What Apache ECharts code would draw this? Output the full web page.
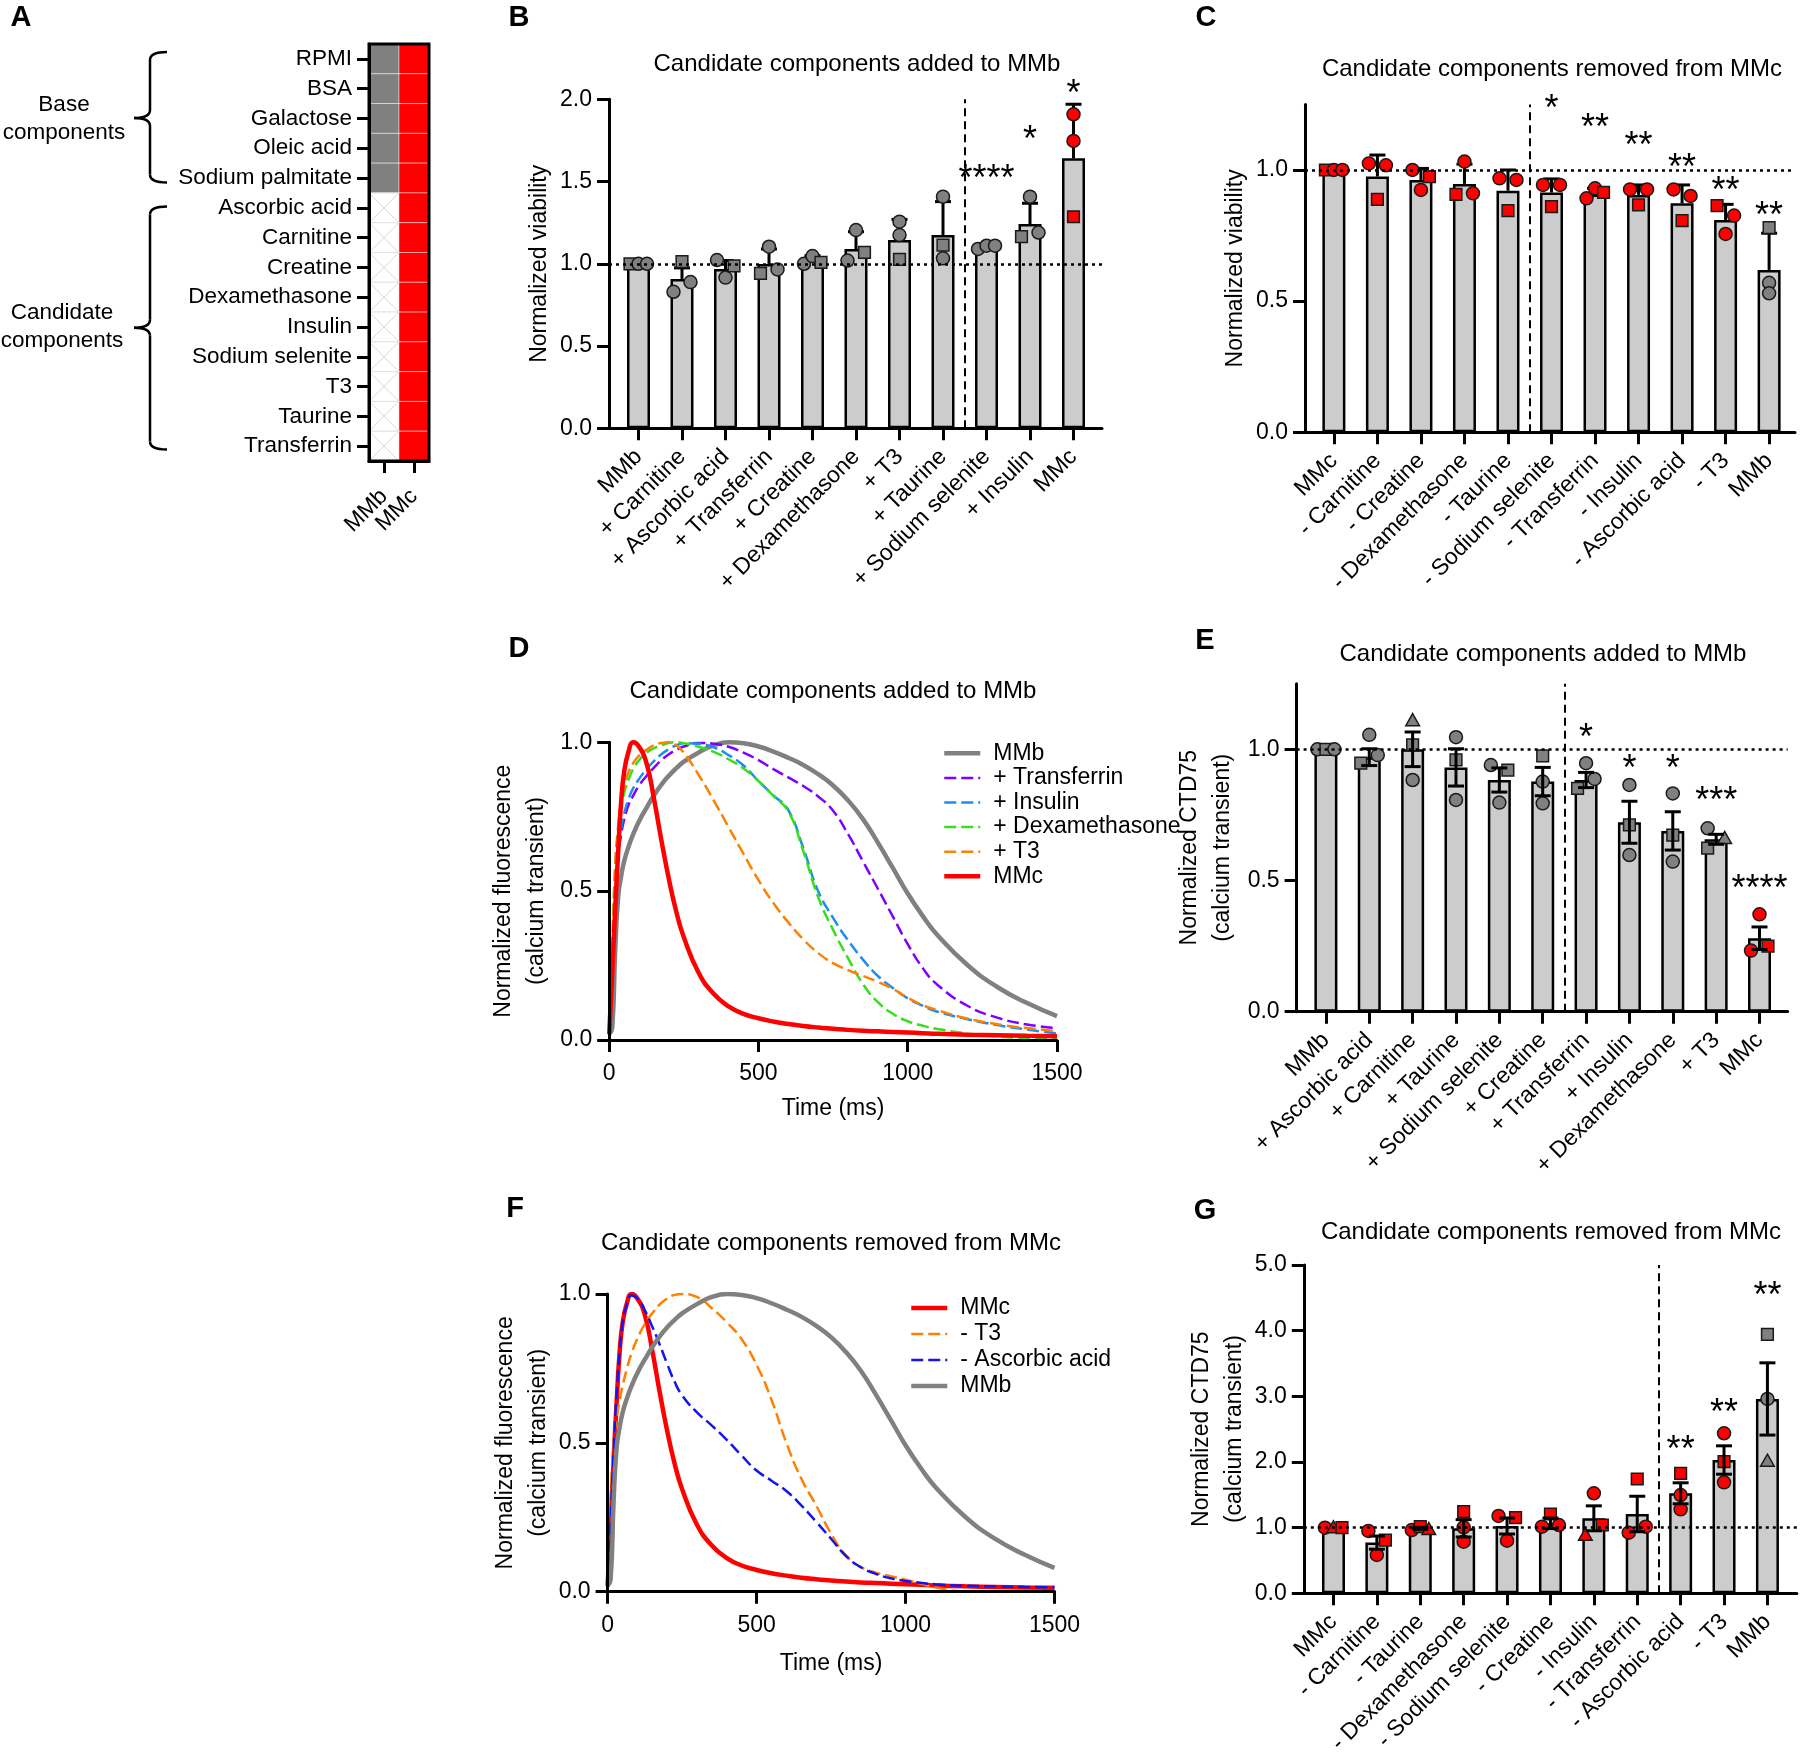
<!DOCTYPE html>
<html><head><meta charset="utf-8">
<script src="https://cdn.jsdelivr.net/npm/echarts@6/dist/echarts.min.js"></script>
<style>html,body{margin:0;padding:0;background:#fff}#c{width:1800px;height:1762px}</style>
</head><body><div id="c"></div>
<script>
// ---------------- DATA ----------------
// Panel A
const components = ['RPMI','BSA','Galactose','Oleic acid','Sodium palmitate','Ascorbic acid','Carnitine','Creatine','Dexamethasone','Insulin','Sodium selenite','T3','Taurine','Transferrin'];
const media = ['MMb','MMc'];
const inMMb = [1,1,1,1,1,0,0,0,0,0,0,0,0,0];
const inMMc = [1,1,1,1,1,1,1,1,1,1,1,1,1,1];

// Panel B
const catsB = ['MMb','+ Carnitine','+ Ascorbic acid','+ Transferrin','+ Creatine','+ Dexamethasone','+ T3','+ Taurine','+ Sodium selenite','+ Insulin','MMc'];
const meanB = [1.0,0.908,0.968,0.999,1.027,1.09,1.145,1.175,1.10,1.242,1.641];
const sdB = [0,0.067,0.052,0.091,0.023,0.105,0.125,0.203,0.02,0.126,0.329];
const ptsB = [[1,1,1],[0.83,1.013,0.889],[1.023,0.916,0.987],[0.942,1.104,0.966],[1.0,1.047,1.009],[1.02,1.205,1.07],[1.256,1.175,1.027],[1.408,1.114,1.033],[1.09,1.11,1.11],[1.165,1.408,1.19],[1.909,1.747,1.286]];
const shpB = [['rect','circle','circle'],['circle','rect','circle'],['circle','circle','rect'],['rect','circle','circle'],['circle','circle','rect'],['circle','circle','rect'],['circle','circle','rect'],['circle','rect','circle'],['circle','circle','circle'],['rect','circle','circle'],['circle','circle','rect']];
const sigB = ['','','','','','','','','****','*','*'];
const sigYB = [0,0,0,0,0,0,0,0,1.55,1.79,2.07];
const splitB = 7.5;

// Panel C
const catsC = ['MMc','- Carnitine','- Creatine','- Dexamethasone','- Taurine','- Sodium selenite','- Transferrin','- Insulin','- Ascorbic acid','- T3','MMb'];
const meanC = [1.0,0.975,0.962,0.947,0.921,0.914,0.907,0.905,0.873,0.809,0.619];
const sdC = [0,0.082,0.044,0.075,0.079,0.052,0.023,0.038,0.07,0.06,0.14];
const ptsC = [[1,1,1],[1.025,1.018,0.888],[1.0,0.975,0.924],[0.907,0.911,1.032],[0.968,0.962,0.845],[0.943,0.943,0.86],[0.892,0.93,0.915],[0.926,0.926,0.867],[0.926,0.901,0.807],[0.864,0.826,0.756],[0.78,0.57,0.53]];
const shpC = [['rect','circle','circle'],['circle','circle','rect'],['circle','rect','circle'],['rect','circle','circle'],['circle','circle','rect'],['circle','circle','rect'],['circle','circle','rect'],['circle','circle','rect'],['circle','circle','rect'],['rect','circle','circle'],['rect','circle','circle']];
const sigC = ['','','','','','*','**','**','**','**','**'];
const sigYC = [0,0,0,0,0,1.255,1.184,1.114,1.032,0.943,0.848];
const splitC = 4.5;

// Panel D / F time courses
const timeMs = [0,10,20,30,40,50,65,80,100,125,150,175,200,225,250,300,350,400,450,500,550,600,650,700,750,800,850,900,950,1000,1050,1100,1200,1300,1400,1500];
const curveMMb = [0.02,0.04,0.3,0.48,0.55,0.6,0.65,0.69,0.735,0.78,0.822,0.858,0.888,0.913,0.935,0.966,0.99,1.0,0.997,0.986,0.969,0.948,0.924,0.893,0.855,0.805,0.742,0.663,0.578,0.492,0.417,0.352,0.252,0.178,0.124,0.08];
const curveMMc = [0.02,0.22,0.44,0.63,0.8,0.9,0.97,1.0,0.985,0.93,0.81,0.67,0.54,0.43,0.345,0.225,0.155,0.113,0.088,0.073,0.062,0.054,0.047,0.042,0.038,0.034,0.031,0.029,0.027,0.025,0.023,0.021,0.018,0.016,0.014,0.013];
const curvePlusTransferrin = [0.02,0.25,0.5,0.62,0.69,0.74,0.79,0.82,0.855,0.887,0.915,0.94,0.96,0.975,0.986,0.998,0.995,0.985,0.965,0.94,0.91,0.882,0.853,0.818,0.77,0.692,0.6,0.508,0.415,0.322,0.242,0.185,0.115,0.075,0.052,0.04];
const curvePlusInsulin = [0.02,0.25,0.5,0.63,0.71,0.76,0.81,0.845,0.877,0.91,0.937,0.96,0.977,0.99,0.997,0.995,0.983,0.957,0.922,0.87,0.822,0.772,0.645,0.5,0.41,0.335,0.27,0.215,0.175,0.14,0.115,0.095,0.07,0.05,0.035,0.022];
const curvePlusDex = [0.02,0.3,0.58,0.7,0.78,0.83,0.875,0.91,0.94,0.965,0.98,0.99,0.998,1.0,0.997,0.985,0.968,0.943,0.912,0.87,0.82,0.768,0.635,0.48,0.37,0.275,0.188,0.127,0.088,0.063,0.048,0.037,0.022,0.012,0.007,0.004];
const curvePlusT3 = [0.02,0.3,0.58,0.72,0.8,0.85,0.9,0.93,0.955,0.975,0.99,0.998,1.0,0.99,0.965,0.89,0.805,0.715,0.625,0.537,0.46,0.395,0.338,0.292,0.258,0.235,0.215,0.195,0.172,0.142,0.117,0.1,0.072,0.053,0.04,0.03];
const curveMinusT3 = [0.02,0.3,0.5,0.58,0.64,0.69,0.75,0.8,0.85,0.9,0.935,0.965,0.985,0.997,1.0,0.99,0.952,0.905,0.848,0.762,0.645,0.5,0.38,0.29,0.195,0.122,0.083,0.064,0.052,0.04,0.027,0.014,0.001,0,0,0];
const curveMinusAscorbic = [0.02,0.25,0.47,0.66,0.8,0.9,0.965,0.995,0.985,0.945,0.89,0.83,0.765,0.705,0.66,0.602,0.558,0.51,0.457,0.407,0.373,0.338,0.29,0.235,0.178,0.12,0.082,0.06,0.045,0.036,0.03,0.025,0.02,0.018,0.016,0.015];

// Panel E
const catsE = ['MMb','+ Ascorbic acid','+ Carnitine','+ Taurine','+ Sodium selenite','+ Creatine','+ Transferrin','+ Insulin','+ Dexamethasone','+ T3','MMc'];
const meanE = [1.0,0.97,1.0,0.931,0.883,0.877,0.883,0.722,0.689,0.657,0.28];
const semE = [0,0.032,0.066,0.071,0.046,0.054,0.029,0.08,0.073,0.019,0.043];
const ptsE = [[1,1,1],[0.947,0.978,1.055],[1.11,1.017,0.883],[1.046,0.96,0.807],[0.94,0.921,0.797],[0.975,0.877,0.794],[0.851,0.887,0.947],[0.864,0.712,0.597],[0.832,0.673,0.572],[0.699,0.661,0.623],[0.233,0.25,0.371]];
const shpE = [['circle','rect','circle'],['rect','circle','circle'],['triangle','rect','circle'],['circle','rect','circle'],['circle','rect','circle'],['rect','circle','circle'],['rect','circle','circle'],['circle','rect','circle'],['circle','rect','circle'],['circle','triangle','rect'],['circle','rect','circle']];
const sigE = ['','','','','','','*','*','*','***','****'];
const sigYE = [0,0,0,0,0,0,1.067,0.948,0.948,0.826,0.49];
const splitE = 5.5;

// Panel G
const catsG = ['MMc','- Carnitine','- Taurine','- Dexamethasone','- Sodium selenite','- Creatine','- Insulin','- Transferrin','- Ascorbic acid','- T3','MMb'];
const meanG = [1.0,0.772,0.99,0.99,1.025,1.066,1.142,1.208,1.523,2.03,2.96];
const semG = [0,0.10,0.015,0.132,0.122,0.08,0.19,0.27,0.16,0.216,0.55];
const ptsG = [[1,1,1],[0.95,0.81,0.584],[0.964,1.015,0.975],[1.244,1.005,0.787],[1.178,1.152,0.802],[1.015,1.04,1.208],[0.888,1.04,1.523],[0.924,1.015,1.741],[1.827,1.497,1.279],[2.437,2.005,1.69],[3.944,2.96,2.015]];
const shpG = [['circle','triangle','rect'],['circle','rect','circle'],['circle','rect','triangle'],['rect','circle','circle'],['circle','rect','circle'],['circle','circle','rect'],['triangle','rect','circle'],['circle','circle','rect'],['rect','circle','circle'],['circle','rect','circle'],['rect','circle','triangle']];
const sigG = ['','','','','','','','','**','**','**'];
const sigYG = [0,0,0,0,0,0,0,0,2.27,2.84,4.62];
const splitG = 7.5;

// ---------------- LAYOUT / STYLE ----------------
const FONT = "'Liberation Sans', Arial, Helvetica, sans-serif";
const LAY = {
  A: {left: 369, top: 44, width: 60, height: 417},
  B: {left: 609, top: 99.3, width: 493, height: 329, xMin: -0.678, xMax: 10.655, yMax: 2, yTicks: [0,0.5,1,1.5,2], nameGap: 51},
  C: {left: 1305, top: 104.4, width: 490, height: 327.9, xMin: -0.664, xMax: 10.595, yMax: 1.25, yTicks: [0,0.5,1], nameGap: 53},
  E: {left: 1296.6, top: 683.7, width: 491, height: 328, xMin: -0.676, xMax: 10.648, yMax: 1.25, yTicks: [0,0.5,1], nameGap: 57},
  G: {left: 1303.8, top: 1265, width: 493, height: 328.3, xMin: -0.684, xMax: 10.677, yMax: 5, yTicks: [0,1,2,3,4,5], nameGap: 53},
  D: {left: 609.2, top: 742.3, width: 447.8, height: 297.7, nameGap: 56, xNameGap: 57},
  F: {left: 607.6, top: 1294, width: 446.9, height: 297.7, nameGap: 47, xNameGap: 60}
};
const SYM = 13, JIT = 8.5, OVER = 10.3, CAP = 8;

const grids = [], xAxes = [], yAxes = [], series = [], legends = [], graphic = [];

function axLine(){ return {show: true, onZero: false, lineStyle: {color: '#000', width: 3}}; }
function axTick(vals){ const t = {show: true, length: 12, lineStyle: {color: '#000', width: 3}}; if (vals) t.customValues = vals; return t; }
const lbl = (o) => Object.assign({color: '#000', fontFamily: FONT, fontSize: 23}, o);

function isRedCat(c){ return c === 'MMc' || c.charAt(0) === '-'; }

function jitterSlots(ys){
  const n = ys.length, s = new Array(n).fill(0), seen = new Array(n).fill(false);
  const ov = (a, b) => Math.abs(ys[a] - ys[b]) < OVER;
  for (let i = 0; i < n; i++) {
    if (seen[i]) continue;
    const q = [i], comp = []; seen[i] = true;
    while (q.length) { const a = q.shift(); comp.push(a); for (let b = 0; b < n; b++) if (!seen[b] && ov(a, b)) { seen[b] = true; q.push(b); } }
    comp.sort((a, b) => a - b);
    if (comp.length === 2) { s[comp[0]] = -1; s[comp[1]] = 1; }
    else if (comp.length === 3) {
      if (ov(comp[0], comp[1]) && ov(comp[1], comp[2]) && ov(comp[0], comp[2])) { s[comp[0]] = -1; s[comp[1]] = 0; s[comp[2]] = 1; }
      else { const byY = comp.slice().sort((a, b) => ys[a] - ys[b]); s[byY[0]] = -1; s[byY[1]] = 1; s[byY[2]] = -1; }
    }
  }
  return s;
}

function symbolEl(shape, x, y, fill){
  const r = SYM / 2, style = {fill: fill, stroke: '#1a1a1a', lineWidth: 1.5};
  if (shape === 'circle') return {type: 'circle', shape: {cx: x, cy: y, r: r}, style: style};
  if (shape === 'rect') { const h = r * 0.9; return {type: 'rect', shape: {x: x - h, y: y - h, width: 2 * h, height: 2 * h}, style: style}; }
  return {type: 'polygon', shape: {points: [[x, y - r * 1.05], [x + r * 1.05, y + r * 0.8], [x - r * 1.05, y + r * 0.8]]}, style: style};
}

function barPanel(key, d){
  const lay = LAY[key], gi = grids.length;
  grids.push({left: lay.left, top: lay.top, width: lay.width, height: lay.height, containLabel: false, outerBoundsMode: 'none'});
  const idx = d.cats.map((_, i) => i);
  xAxes.push({type: 'value', gridIndex: gi, min: lay.xMin, max: lay.xMax, z: 6,
    axisLine: axLine(), axisTick: axTick(idx), splitLine: {show: false},
    axisLabel: lbl({customValues: idx, formatter: v => d.cats[Math.round(v)], rotate: 45, margin: 25})});
  yAxes.push({type: 'value', gridIndex: gi, min: 0, max: lay.yMax, z: 6,
    name: d.yName, nameLocation: 'middle', nameGap: lay.nameGap,
    nameTextStyle: lbl({lineHeight: 33}),
    axisLine: axLine(), axisTick: axTick(lay.yTicks), splitLine: {show: false},
    axisLabel: lbl({customValues: lay.yTicks, formatter: v => v.toFixed(1), margin: 17})});
  series.push({type: 'bar', xAxisIndex: gi, yAxisIndex: gi, barWidth: 23, z: 2, silent: true,
    data: d.mean.map((m, i) => [i, m]),
    itemStyle: {color: '#cccccc', borderColor: '#000', borderWidth: 2.5},
    markLine: {symbol: ['none', 'none'], silent: true, label: {show: false}, animation: false,
      data: [
        {yAxis: 1, lineStyle: {type: [3, 4], color: '#000', width: 2.5}},
        {xAxis: d.split, lineStyle: {type: [8, 5], color: '#000', width: 2}}
      ]}});
  series.push({type: 'custom', xAxisIndex: gi, yAxisIndex: gi, z: d.both ? 5 : 3, silent: true,
    data: d.mean.map((m, i) => [i, m, d.err[i]]),
    renderItem: function(params, api){
      const i = api.value(0), m = api.value(1), e = api.value(2);
      if (!e) return null;
      const top = api.coord([i, m + e]), bot = api.coord([i, d.both ? m - e : m]);
      const st = {stroke: '#000', lineWidth: 3};
      const ch = [
        {type: 'line', shape: {x1: top[0], y1: top[1], x2: bot[0], y2: bot[1]}, style: st},
        {type: 'line', shape: {x1: top[0] - CAP, y1: top[1], x2: top[0] + CAP, y2: top[1]}, style: st}
      ];
      if (d.both) ch.push({type: 'line', shape: {x1: bot[0] - CAP, y1: bot[1], x2: bot[0] + CAP, y2: bot[1]}, style: st});
      return {type: 'group', children: ch};
    }});
  const pdata = [];
  d.pts.forEach((arr, i) => arr.forEach((v, k) => pdata.push([i, v, k])));
  series.push({type: 'custom', xAxisIndex: gi, yAxisIndex: gi, z: 4, silent: true, data: pdata,
    renderItem: function(params, api){
      const i = api.value(0), v = api.value(1), k = api.value(2);
      const ys = d.pts[i].map(p => api.coord([i, p])[1]);
      const slots = jitterSlots(ys);
      const c = api.coord([i, v]);
      return symbolEl(d.shp[i][k], c[0] + slots[k] * JIT, c[1], isRedCat(d.cats[i]) ? '#ff0000' : '#808080');
    }});
  series.push({type: 'custom', xAxisIndex: gi, yAxisIndex: gi, z: 6, silent: true,
    data: d.sigY.map((y, i) => [i, y]),
    renderItem: function(params, api){
      const i = api.value(0);
      if (!d.sig[i]) return null;
      const c = api.coord([i, api.value(1)]);
      return {type: 'text', x: c[0], y: c[1] + 7, style: {text: d.sig[i], fontSize: 36, fontFamily: FONT, fill: '#000', align: 'center', verticalAlign: 'middle'}};
    }});
}

function linePanel(key, d){
  const lay = LAY[key], gi = grids.length;
  grids.push({left: lay.left, top: lay.top, width: lay.width, height: lay.height, containLabel: false, outerBoundsMode: 'none'});
  xAxes.push({type: 'value', gridIndex: gi, min: 0, max: 1500, interval: 500, z: 6,
    name: 'Time (ms)', nameLocation: 'middle', nameGap: lay.xNameGap, nameTextStyle: lbl({}),
    axisLine: axLine(), axisTick: axTick(), splitLine: {show: false}, axisLabel: lbl({margin: 22, formatter: v => String(v)})});
  yAxes.push({type: 'value', gridIndex: gi, min: 0, max: 1, interval: 0.5, z: 6,
    name: 'Normalized fluorescence\n(calcium transient)', nameLocation: 'middle', nameGap: lay.nameGap,
    nameTextStyle: lbl({lineHeight: 33}),
    axisLine: axLine(), axisTick: axTick(), splitLine: {show: false},
    axisLabel: lbl({formatter: v => v.toFixed(1), margin: 17})});
  d.curves.forEach(cv => {
    series.push({type: 'line', name: cv.name, xAxisIndex: gi, yAxisIndex: gi, symbol: 'none', smooth: 0.5,
      data: timeMs.map((t, i) => [t, cv.vals[i]]), z: 3, silent: true,
      lineStyle: {color: cv.color, width: cv.solid ? 4.5 : 2.5, type: cv.solid ? 'solid' : [12, 5], cap: 'butt'},
      itemStyle: {color: cv.color}});
  });
  legends.push({orient: 'vertical', left: d.legLeft, top: d.legTop, itemWidth: 36, itemHeight: 14, itemGap: 0,
    selectedMode: false, data: d.curves.map(c => c.name),
    itemStyle: {opacity: 0},
    lineStyle: {width: 'inherit', type: 'inherit', color: 'inherit'},
    textStyle: lbl({lineHeight: d.legRow, padding: [0, 0, 0, 8]})});
}

// ---------------- PANEL A (composition heatmap) ----------------
(function(){
  const lay = LAY.A, gi = grids.length;
  grids.push({left: lay.left, top: lay.top, width: lay.width, height: lay.height, show: true, borderColor: '#000', borderWidth: 3, backgroundColor: 'transparent', z: 10, containLabel: false, outerBoundsMode: 'none'});
  xAxes.push({type: 'category', gridIndex: gi, data: media, z: 10,
    axisLine: axLine(), axisTick: Object.assign(axTick(), {alignWithLabel: true, interval: 0}),
    axisLabel: lbl({interval: 0, rotate: 45, margin: 32, fontSize: 22.5})});
  yAxes.push({type: 'category', gridIndex: gi, data: components, inverse: true, z: 10,
    axisLine: axLine(), axisTick: Object.assign(axTick(), {alignWithLabel: true, interval: 0}),
    axisLabel: lbl({interval: 0, margin: 17, fontSize: 22.5})});
  const cells = [];
  components.forEach((c, r) => { cells.push([0, r, inMMb[r]]); cells.push([1, r, inMMc[r]]); });
  series.push({type: 'custom', xAxisIndex: gi, yAxisIndex: gi, z: 2, silent: true, data: cells,
    renderItem: function(params, api){
      const col = api.value(0), row = api.value(1), on = api.value(2);
      const c = api.coord([col, row]), s = api.size([1, 1]);
      const x = c[0] - s[0] / 2, y = c[1] - s[1] / 2;
      const fill = on ? (col === 0 ? '#808080' : '#ff0000') : '#ffffff';
      const ch = [{type: 'rect', shape: {x: x, y: y, width: s[0], height: s[1]}, style: {fill: fill, stroke: on ? 'rgba(255,255,255,0.45)' : '#e2e2e2', lineWidth: 1}}];
      if (!on) {
        ch.push({type: 'line', shape: {x1: x, y1: y, x2: x + s[0], y2: y + s[1]}, style: {stroke: '#d8d8d8', lineWidth: 1}});
        ch.push({type: 'line', shape: {x1: x + s[0], y1: y, x2: x, y2: y + s[1]}, style: {stroke: '#d8d8d8', lineWidth: 1}});
      }
      return {type: 'group', children: ch};
    }});
})();

barPanel('B', {cats: catsB, mean: meanB, err: sdB, pts: ptsB, shp: shpB, sig: sigB, sigY: sigYB, split: splitB, both: false, yName: 'Normalized viability'});
barPanel('C', {cats: catsC, mean: meanC, err: sdC, pts: ptsC, shp: shpC, sig: sigC, sigY: sigYC, split: splitC, both: false, yName: 'Normalized viability'});
linePanel('D', {legLeft: 937, legTop: 736, legRow: 24.6, curves: [
  {name: 'MMb', vals: curveMMb, color: '#808080', solid: true},
  {name: '+ Transferrin', vals: curvePlusTransferrin, color: '#8000ff'},
  {name: '+ Insulin', vals: curvePlusInsulin, color: '#1e8cf0'},
  {name: '+ Dexamethasone', vals: curvePlusDex, color: '#33e01a'},
  {name: '+ T3', vals: curvePlusT3, color: '#ff8000'},
  {name: 'MMc', vals: curveMMc, color: '#ff0000', solid: true}
]});
barPanel('E', {cats: catsE, mean: meanE, err: semE, pts: ptsE, shp: shpE, sig: sigE, sigY: sigYE, split: splitE, both: true, yName: 'Normalized CTD75\n(calcium transient)'});
linePanel('F', {legLeft: 904, legTop: 1290, legRow: 26, curves: [
  {name: 'MMc', vals: curveMMc, color: '#ff0000', solid: true},
  {name: '- T3', vals: curveMinusT3, color: '#ff8000'},
  {name: '- Ascorbic acid', vals: curveMinusAscorbic, color: '#1414f0'},
  {name: 'MMb', vals: curveMMb, color: '#808080', solid: true}
]});
barPanel('G', {cats: catsG, mean: meanG, err: semG, pts: ptsG, shp: shpG, sig: sigG, sigY: sigYG, split: splitG, both: true, yName: 'Normalized CTD75\n(calcium transient)'});

// ---------------- TEXT DECORATIONS ----------------
function txt(t, x, y, size, weight, lh){
  graphic.push({type: 'text', x: x, y: y, z: 20, silent: true, style: {text: t, fontSize: size, fontWeight: weight || 'normal', fontFamily: FONT, fill: '#000', align: 'center', verticalAlign: 'middle', lineHeight: lh || size}});
}
txt('A', 21, 18, 29, 'bold'); txt('B', 519, 18, 29, 'bold'); txt('C', 1206, 18, 29, 'bold');
txt('D', 519, 649, 29, 'bold'); txt('E', 1205, 641, 29, 'bold'); txt('F', 515, 1209, 29, 'bold'); txt('G', 1205, 1211, 29, 'bold');
txt('Candidate components added to MMb', 857, 64, 24);
txt('Candidate components removed from MMc', 1552, 69, 24);
txt('Candidate components added to MMb', 833, 691, 24);
txt('Candidate components added to MMb', 1543, 654, 24);
txt('Candidate components removed from MMc', 831, 1243, 24);
txt('Candidate components removed from MMc', 1551, 1232, 24);
txt('Base\ncomponents', 64, 119, 22.5, 'normal', 27.6);
txt('Candidate\ncomponents', 62, 327, 22.5, 'normal', 27.6);

function brace(y0, yt, y1){
  const xr = 167, xm = 150, xt = 134, st = {stroke: '#000', lineWidth: 2.5, fill: null};
  [
    {type: 'bezierCurve', shape: {x1: xr, y1: y0, x2: xm, y2: y0 + 8, cpx1: xm, cpy1: y0}},
    {type: 'line', shape: {x1: xm, y1: y0 + 8, x2: xm, y2: yt - 8}},
    {type: 'bezierCurve', shape: {x1: xm, y1: yt - 8, x2: xt, y2: yt, cpx1: xm, cpy1: yt}},
    {type: 'bezierCurve', shape: {x1: xt, y1: yt, x2: xm, y2: yt + 8, cpx1: xm, cpy1: yt}},
    {type: 'line', shape: {x1: xm, y1: yt + 8, x2: xm, y2: y1 - 8}},
    {type: 'bezierCurve', shape: {x1: xm, y1: y1 - 8, x2: xr, y2: y1, cpx1: xm, cpy1: y1}}
  ].forEach(e => { e.style = st; e.silent = true; graphic.push(e); });
}
brace(52, 118, 182.5);
brace(206.6, 327.8, 449.4);

const chart = echarts.init(document.getElementById('c'), null, {renderer: 'canvas'});
chart.setOption({
  animation: false,
  backgroundColor: '#ffffff',
  textStyle: {fontFamily: FONT, color: '#000'},
  grid: grids, xAxis: xAxes, yAxis: yAxes, series: series, legend: legends, graphic: graphic
});
</script></body></html>
